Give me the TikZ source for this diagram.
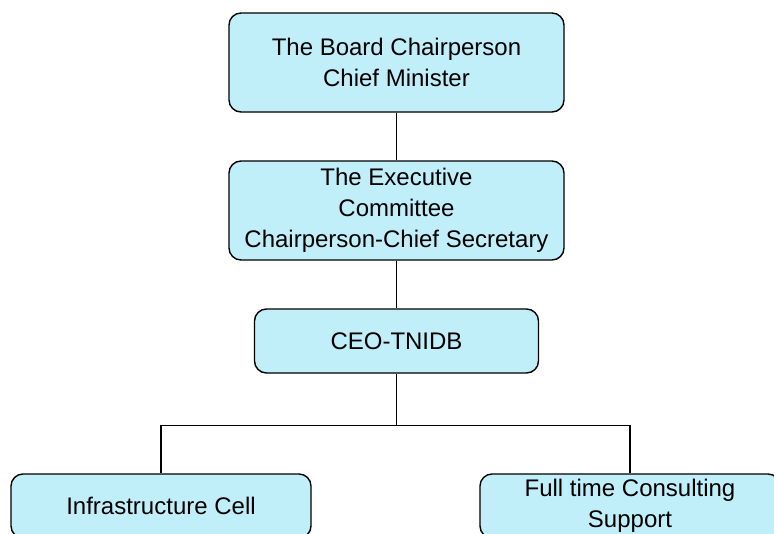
\documentclass[tikz,border=0pt]{standalone}
\usepackage{fontspec}
\setmainfont{Liberation Sans}
\definecolor{boxfill}{RGB}{192,239,250}
\begin{document}
\begin{tikzpicture}[x=1pt,y=-1pt,
  orgbox/.style={draw=black, line width=1.4pt, fill=boxfill, rounded corners=12pt,
    inner sep=0pt, align=center, font=\fontsize{24pt}{31pt}\selectfont},
  link/.style={draw=black, line width=1.4pt}]
\useasboundingbox (0,0) rectangle (774,533);
\clip (0,0) rectangle (774,533);
\fill[white] (0,0) rectangle (774,533);
\node[orgbox, minimum width=335pt, minimum height=99pt] (board) at (396.5,62.5)
  {The Board Chairperson\\Chief Minister};
\node[orgbox, minimum width=335pt, minimum height=99pt] (exec) at (396.5,210.5)
  {The Executive\\Committee\\Chairperson-Chief Secretary};
\node[orgbox, minimum width=284pt, minimum height=64pt] (ceo) at (396.5,341)
  {CEO-TNIDB};
\node[orgbox, minimum width=300pt, minimum height=64pt] (infra) at (161,506)
  {Infrastructure Cell};
\node[orgbox, minimum width=300pt, minimum height=64pt] (full) at (630,506)
  {Full time Consulting\\Support};
\coordinate (j) at ([yshift=-52pt]ceo.south);
\draw[link] (board.south) -- (exec.north);
\draw[link] (exec.south) -- (ceo.north);
\draw[link] (ceo.south) -- (j);
\draw[link] (j) -| (infra.north);
\draw[link] (j) -| (full.north);
\end{tikzpicture}
\end{document}
